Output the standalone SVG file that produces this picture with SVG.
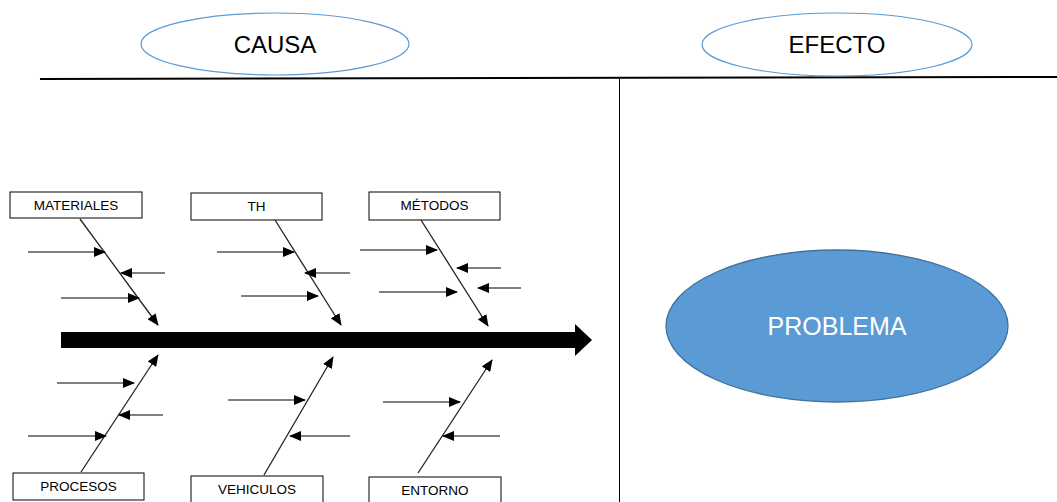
<svg xmlns="http://www.w3.org/2000/svg" width="1057" height="502" viewBox="0 0 1057 502">
  <style>
    .hdr { fill: #ffffff; stroke: #5B9BD5; stroke-width: 1.2; }
    .hdr-text { font-family: "Liberation Sans", Arial, sans-serif; font-size: 24px; fill: #000; text-anchor: middle; }
    .box { fill: #ffffff; stroke: #000; stroke-width: 1; }
    .lbl { font-family: "Liberation Sans", Arial, sans-serif; font-size: 13.5px; fill: #000; text-anchor: middle; }
    .bone { stroke: #222; stroke-width: 1.3; fill: none; marker-end: url(#tip); }
    .sub { stroke: #000; stroke-width: 1.2; fill: none; marker-end: url(#tip); }
  </style>
  <defs>
    <marker id="tip" markerUnits="userSpaceOnUse" markerWidth="12" markerHeight="10" refX="11" refY="5" orient="auto">
      <path d="M0,0 L12,5 L0,10 Z" fill="#000"/>
    </marker>
  </defs>

  <rect width="1057" height="502" fill="#ffffff"/>

  <!-- frame lines -->
  <g id="frame">
    <line x1="40" y1="79" x2="1057" y2="77" stroke="#000" stroke-width="2"/>
    <line x1="619.5" y1="79" x2="619.5" y2="502" stroke="#000" stroke-width="1"/>
  </g>

  <!-- column headers -->
  <g id="causa">
    <ellipse class="hdr" cx="275" cy="44" rx="134" ry="31"/>
    <text class="hdr-text" x="275" y="53">CAUSA</text>
  </g>
  <g id="efecto">
    <ellipse class="hdr" cx="837" cy="44.5" rx="135" ry="31.5"/>
    <text class="hdr-text" x="837" y="53">EFECTO</text>
  </g>

  <!-- spine -->
  <g id="spine">
    <path d="M61,332 L575,332 L575,324 L592,340 L575,356 L575,348 L61,348 Z" fill="#000"/>
  </g>

  <!-- effect -->
  <g id="problema">
    <ellipse cx="837" cy="326" rx="171" ry="76" fill="#5B9BD5" stroke="#41719C" stroke-width="1.3"/>
    <text x="837" y="335" font-family="'Liberation Sans', Arial, sans-serif" font-size="25" fill="#ffffff" text-anchor="middle">PROBLEMA</text>
  </g>

  <!-- category boxes -->
  <g id="materiales">
    <rect class="box" x="10" y="192" width="132" height="26"/>
    <text class="lbl" x="76" y="210">MATERIALES</text>
  </g>
  <g id="th">
    <rect class="box" x="191" y="193" width="131" height="27"/>
    <text class="lbl" x="256.5" y="211">TH</text>
  </g>
  <g id="metodos">
    <rect class="box" x="369" y="192" width="131" height="28"/>
    <text class="lbl" x="434.5" y="210">MÉTODOS</text>
  </g>
  <g id="procesos">
    <rect class="box" x="13" y="473" width="131" height="27"/>
    <text class="lbl" x="78.5" y="491">PROCESOS</text>
  </g>
  <g id="vehiculos">
    <rect class="box" x="191" y="476" width="132" height="30"/>
    <text class="lbl" x="257" y="494">VEHICULOS</text>
  </g>
  <g id="entorno">
    <rect class="box" x="369" y="477" width="132" height="30"/>
    <text class="lbl" x="435" y="495">ENTORNO</text>
  </g>

  <!-- bones and cause arrows -->
  <g id="connectors">
    <!-- MATERIALES -->
    <line class="bone" x1="80" y1="219" x2="158" y2="325"/>
    <line class="sub" x1="28" y1="252" x2="105" y2="252"/>
    <line class="sub" x1="165" y1="273" x2="121" y2="273"/>
    <line class="sub" x1="61" y1="298" x2="139" y2="298"/>
    <!-- TH -->
    <line class="bone" x1="275" y1="220" x2="341" y2="325"/>
    <line class="sub" x1="217" y1="252" x2="294" y2="252"/>
    <line class="sub" x1="350" y1="273" x2="305" y2="273"/>
    <line class="sub" x1="241" y1="296" x2="318" y2="296"/>
    <!-- MÉTODOS -->
    <line class="bone" x1="421" y1="220" x2="488" y2="326"/>
    <line class="sub" x1="360" y1="250" x2="437" y2="250"/>
    <line class="sub" x1="501" y1="268" x2="457" y2="268"/>
    <line class="sub" x1="379" y1="292" x2="457" y2="292"/>
    <line class="sub" x1="521" y1="288" x2="478" y2="288"/>
    <!-- PROCESOS -->
    <line class="bone" x1="81" y1="472" x2="158" y2="355"/>
    <line class="sub" x1="57" y1="383" x2="134" y2="383"/>
    <line class="sub" x1="163" y1="415" x2="119" y2="415"/>
    <line class="sub" x1="28" y1="436" x2="106" y2="436"/>
    <!-- VEHICULOS -->
    <line class="bone" x1="264" y1="475" x2="333" y2="357"/>
    <line class="sub" x1="228" y1="400" x2="305" y2="400"/>
    <line class="sub" x1="350" y1="436" x2="290" y2="436"/>
    <!-- ENTORNO -->
    <line class="bone" x1="418" y1="473" x2="492" y2="360"/>
    <line class="sub" x1="383" y1="402" x2="460" y2="402"/>
    <line class="sub" x1="500" y1="436" x2="443" y2="436"/>
  </g>
</svg>
